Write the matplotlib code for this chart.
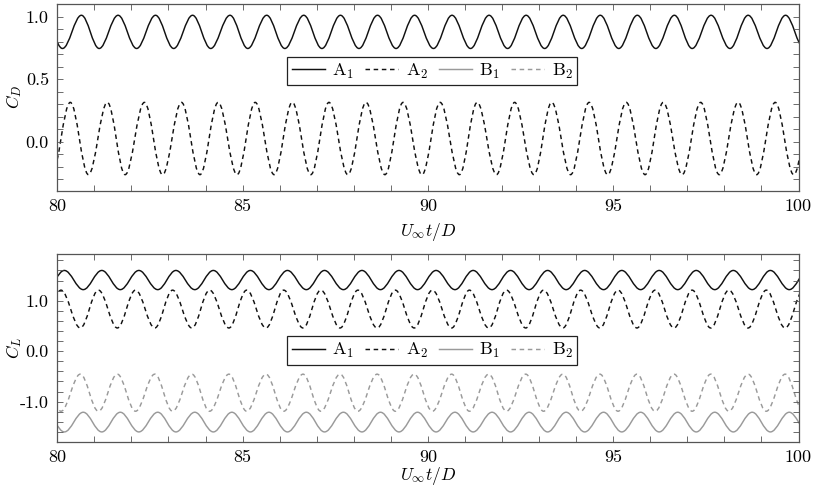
import matplotlib
matplotlib.use('Agg')
import matplotlib.pyplot as plt
from matplotlib.path import Path
from matplotlib.patches import PathPatch
from matplotlib.lines import Line2D
from matplotlib.ticker import FixedLocator, FixedFormatter, MultipleLocator

plt.rcParams['mathtext.fontset'] = 'cm'
plt.rcParams['font.family'] = ['cmr10', 'DejaVu Serif']
plt.rcParams['axes.unicode_minus'] = False

# ---------------- data ----------------
time_range = (80, 100)
time_ticks = [80, 85, 90, 95, 100]
time_tick_labels = ['80', '85', '90', '95', '100']

cd_range = (-0.39, 1.10)
cd_ticks = [0.0, 0.5, 1.0]
cd_tick_labels = ['0.0', '0.5', '1.0']

cl_range = (-1.79, 1.92)
cl_ticks = [-1.0, 0.0, 1.0]
cl_tick_labels = ['-1.0', '0.0', '1.0']

series_labels = [r'$\mathrm{A}_1$', r'$\mathrm{A}_2$', r'$\mathrm{B}_1$', r'$\mathrm{B}_2$']

# Drag coefficient: times of maxima / minima and their values
A1_D_peak_t = [79.65, 80.65, 81.64, 82.65, 83.65, 84.66, 85.65, 86.65, 87.64, 88.64,
               89.64, 90.65, 91.65, 92.65, 93.65, 94.65, 95.65, 96.65, 97.64, 98.64, 99.65]
A1_D_trough_t = [80.14, 81.13, 82.14, 83.14, 84.14, 85.14, 86.14, 87.14, 88.14, 89.14,
                 90.15, 91.15, 92.15, 93.15, 94.15, 95.15, 96.15, 97.13, 98.15, 99.15, 100.15]
A1_D_peak_v = 1.01
A1_D_trough_v = 0.745

A2_D_peak_t = [80.35, 81.35, 82.35, 83.35, 84.34, 85.34, 86.34, 87.33, 88.33, 89.33,
               90.33, 91.33, 92.34, 93.34, 94.35, 95.35, 96.35, 97.36, 98.37, 99.37, 100.37]
A2_D_trough_t = [79.85, 80.84, 81.83, 82.84, 83.85, 84.85, 85.85, 86.84, 87.84, 88.84,
                 89.84, 90.85, 91.85, 92.86, 93.85, 94.85, 95.86, 96.86, 97.86, 98.87, 99.87]
A2_D_peak_v = 0.315
A2_D_trough_v = -0.262

# Lift coefficient
A1_L_peak_t = [80.19, 81.20, 82.20, 83.20, 84.21, 85.21, 86.21, 87.21, 88.22, 89.22,
               90.22, 91.22, 92.23, 93.23, 94.23, 95.23, 96.24, 97.24, 98.24, 99.24, 100.25]
A1_L_trough_t = [79.70, 80.70, 81.70, 82.71, 83.71, 84.71, 85.71, 86.72, 87.72, 88.72,
                 89.72, 90.73, 91.73, 92.73, 93.73, 94.74, 95.74, 96.74, 97.74, 98.75, 99.75]
A1_L_peak_v = 1.60
A1_L_trough_v = 1.22

A2_L_peak_t = [80.10, 81.11, 82.11, 83.11, 84.11, 85.11, 86.11, 87.11, 88.11, 89.12,
               90.12, 91.12, 92.12, 93.12, 94.12, 95.13, 96.13, 97.13, 98.12, 99.13, 100.13]
A2_L_trough_t = [79.60, 80.62, 81.62, 82.63, 83.63, 84.63, 85.63, 86.63, 87.63, 88.63,
                 89.63, 90.64, 91.64, 92.64, 93.64, 94.64, 95.64, 96.64, 97.63, 98.64, 99.64]
A2_L_peak_v = 1.21
A2_L_trough_v = 0.46

B1_L_peak_t = A1_L_trough_t
B1_L_trough_t = A1_L_peak_t
B1_L_peak_v = -1.21
B1_L_trough_v = -1.60

B2_L_peak_t = A2_L_trough_t
B2_L_trough_t = A2_L_peak_t
B2_L_peak_v = -0.455
B2_L_trough_v = -1.19

# ---------------- styles ----------------
BLACK = '#111111'
GRAY = '#9a9a9a'
DASH = (0, (3.1, 2.5))
LW = 1.05
styles = [dict(color=BLACK, ls='-'), dict(color=BLACK, ls=DASH),
          dict(color=GRAY, ls='-'), dict(color=GRAY, ls=DASH)]


def smooth_path(peak_t, peak_v, trough_t, trough_v):
    ext = sorted([(t, peak_v) for t in peak_t] + [(t, trough_v) for t in trough_t])
    a = 0.364
    verts = [ext[0]]
    codes = [Path.MOVETO]
    for (t0, v0), (t1, v1) in zip(ext[:-1], ext[1:]):
        d = t1 - t0
        verts += [(t0 + a * d, v0), (t1 - a * d, v1), (t1, v1)]
        codes += [Path.CURVE4] * 3
    return Path(verts, codes)


def draw(ax, peak_t, peak_v, trough_t, trough_v, style):
    p = PathPatch(smooth_path(peak_t, peak_v, trough_t, trough_v), fill=False,
                  edgecolor=style['color'], linestyle=style['ls'], lw=LW,
                  joinstyle='round', capstyle='butt')
    ax.add_patch(p)


def style_axes(ax, yticks, ylabels, yminor, ylim, ylabel, xlab_y):
    ax.set_xlim(*time_range)
    ax.set_ylim(*ylim)
    ax.xaxis.set_major_locator(FixedLocator(time_ticks))
    ax.xaxis.set_major_formatter(FixedFormatter(time_tick_labels))
    ax.xaxis.set_minor_locator(MultipleLocator(1))
    ax.yaxis.set_major_locator(FixedLocator(yticks))
    ax.yaxis.set_major_formatter(FixedFormatter(ylabels))
    ax.yaxis.set_minor_locator(MultipleLocator(yminor))
    for which in ('major', 'minor'):
        ax.tick_params(axis='both', which=which, direction='in', top=True, right=True,
                       length=4, width=0.6, color='#555555', labelsize=13, pad=6)
    for s in ax.spines.values():
        s.set_color('#555555')
        s.set_linewidth(0.9)
    ax.set_xlabel(r'$U_\infty t/D$', fontsize=12.5, va='center')
    ax.set_ylabel(ylabel, fontsize=12.5, va='center')
    ax.xaxis.set_label_coords(0.5, xlab_y)
    ax.yaxis.set_label_coords(-0.059, 0.5)


def legend(ax, y):
    handles = [Line2D([], [], color=s['color'], ls=s['ls'], lw=LW) for s in styles]
    leg = ax.legend(handles, series_labels, loc='center', bbox_to_anchor=(0.506, y),
                    ncol=4, frameon=True, fancybox=False, framealpha=1,
                    edgecolor='#222222', fontsize=13, handlelength=1.85,
                    handletextpad=0.4, columnspacing=0.6, borderpad=0.25,
                    borderaxespad=0)
    leg.get_frame().set_linewidth(0.9)


fig = plt.figure(figsize=(8.14, 4.87), dpi=100)
ax1 = fig.add_axes([0.0704, 0.6084, 0.9106, 0.3834])
ax2 = fig.add_axes([0.0704, 0.0934, 0.9106, 0.3844])

draw(ax1, A1_D_peak_t, A1_D_peak_v, A1_D_trough_t, A1_D_trough_v, styles[0])
draw(ax1, A2_D_peak_t, A2_D_peak_v, A2_D_trough_t, A2_D_trough_v, styles[1])
style_axes(ax1, cd_ticks, cd_tick_labels, 0.1, cd_range, r'$C_D$', -0.222)
legend(ax1, 0.641)

draw(ax2, A1_L_peak_t, A1_L_peak_v, A1_L_trough_t, A1_L_trough_v, styles[0])
draw(ax2, A2_L_peak_t, A2_L_peak_v, A2_L_trough_t, A2_L_trough_v, styles[1])
draw(ax2, B1_L_peak_t, B1_L_peak_v, B1_L_trough_t, B1_L_trough_v, styles[2])
draw(ax2, B2_L_peak_t, B2_L_peak_v, B2_L_trough_t, B2_L_trough_v, styles[3])
style_axes(ax2, cl_ticks, cl_tick_labels, 0.2, cl_range, r'$C_L$', -0.186)
legend(ax2, 0.486)

fig.savefig('out.png', dpi=100)
